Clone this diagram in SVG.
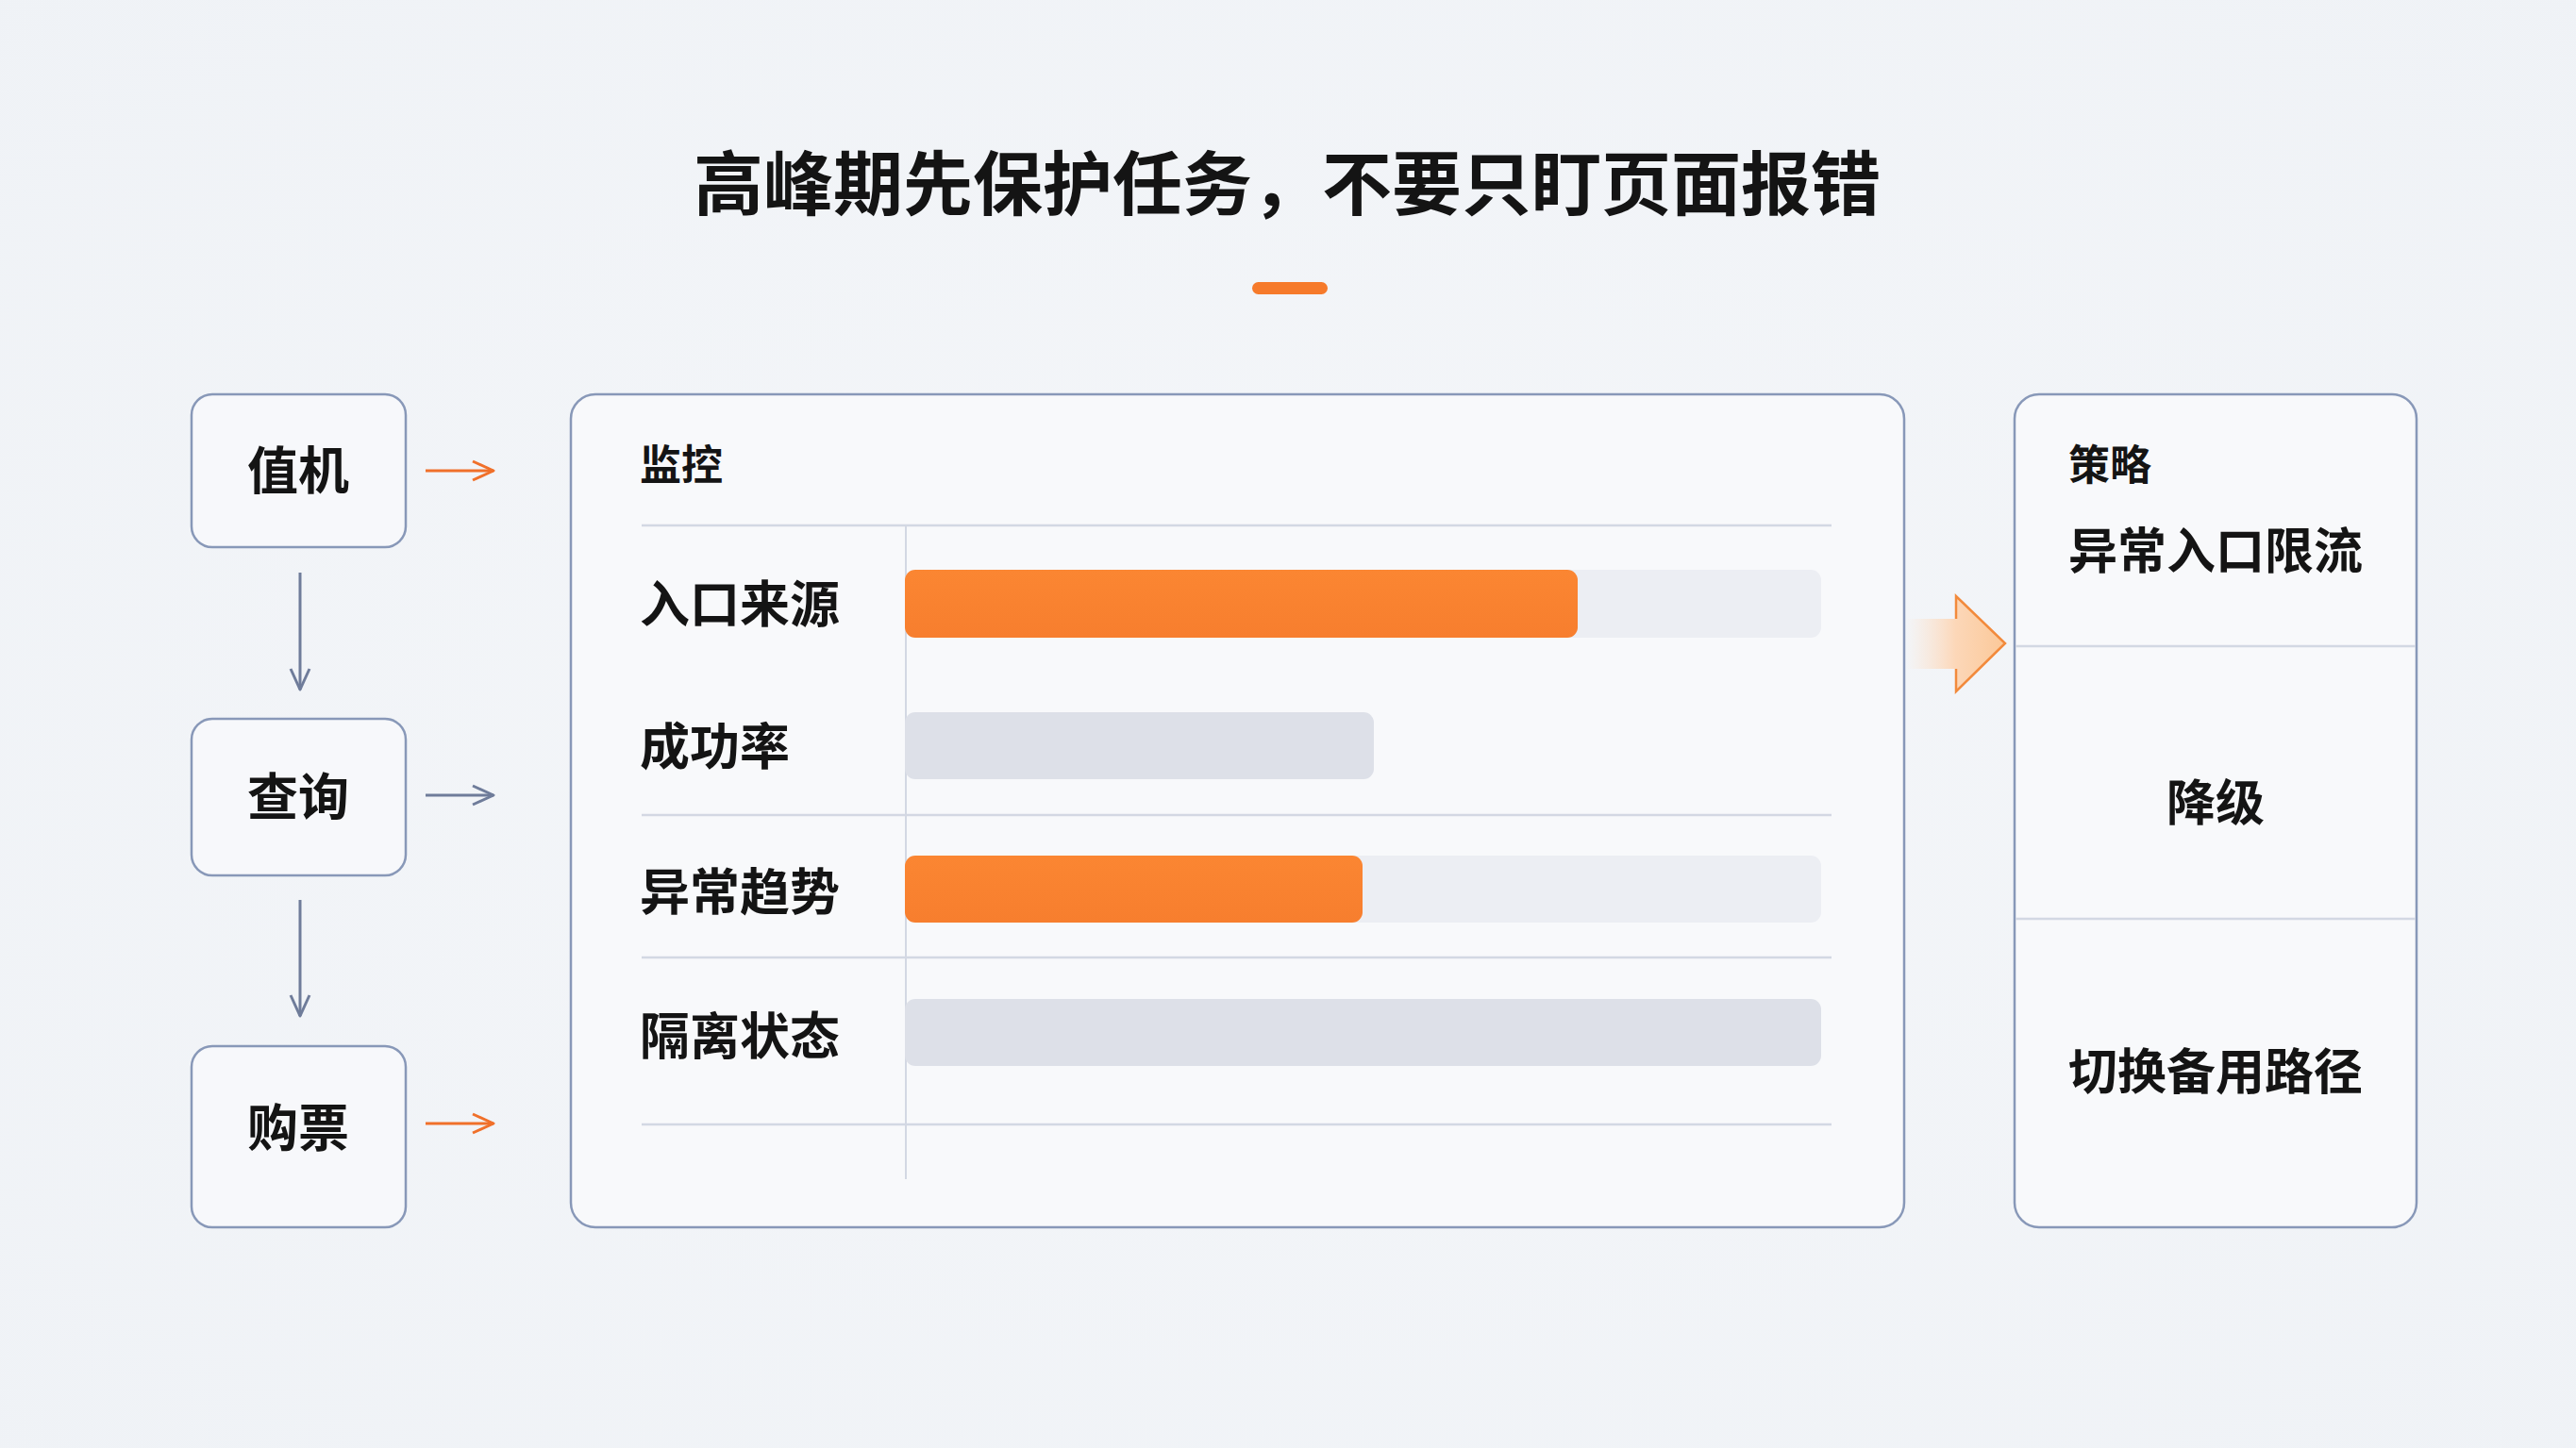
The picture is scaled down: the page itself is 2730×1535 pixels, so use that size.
<svg xmlns="http://www.w3.org/2000/svg" width="2730" height="1535" viewBox="0 0 2730 1535">
<defs>
<radialGradient id="bg" cx="50%" cy="50%" r="75%">
<stop offset="0" stop-color="#f4f6f9"/>
<stop offset="1" stop-color="#eff2f6"/>
</radialGradient>
<linearGradient id="orange" x1="0" y1="0" x2="0" y2="1">
<stop offset="0" stop-color="#fb8632"/>
<stop offset="1" stop-color="#f77e2e"/>
</linearGradient>
<linearGradient id="bigArrow" x1="0" y1="0" x2="1" y2="0">
<stop offset="0" stop-color="#fde2cc" stop-opacity="0"/>
<stop offset="0.5" stop-color="#fcd7b8"/>
<stop offset="1" stop-color="#fbc898"/>
</linearGradient>
<marker id="arrOrange" markerWidth="30" markerHeight="30" refX="26" refY="12" orient="auto" markerUnits="userSpaceOnUse">
<path d="M4 2 L26 12 L4 22" fill="none" stroke="#f0702a" stroke-width="3" stroke-linejoin="round"/>
</marker>
<marker id="arrGray" markerWidth="30" markerHeight="30" refX="26" refY="12" orient="auto" markerUnits="userSpaceOnUse">
<path d="M4 2 L26 12 L4 22" fill="none" stroke="#6f7c9a" stroke-width="3" stroke-linejoin="round"/>
</marker>
<style>
text{font-family:"Noto Sans CJK SC","Noto Sans",sans-serif;fill:#141414;dominant-baseline:central}
.title{font-size:74px;font-weight:700;text-anchor:middle}
.node{fill:#f7f8fb;stroke:#8898b8;stroke-width:2.5}
.nodeText{font-size:54px;font-weight:700;text-anchor:middle}
.head{font-size:44px;font-weight:700}
.label{font-size:53px;font-weight:700}
.strat{font-size:52px;font-weight:700;text-anchor:middle}
.sep{stroke:#d3d8e3;stroke-width:2.5}
.track{fill:#eceef3}
.gray{fill:#dde0e8}
.bar{fill:url(#orange)}
.conO{stroke:#f0702a;stroke-width:3;fill:none}
.conG{stroke:#6f7c9a;stroke-width:3;fill:none}
</style>
</defs>
<rect width="2730" height="1535" fill="url(#bg)"/>

<g id="title">
<text class="title" x="1364" y="189">高峰期先保护任务，不要只盯页面报错</text>
<rect x="1327" y="299" width="80" height="13" rx="6.5" fill="#f67a2b"/>
</g>

<g id="node-checkin">
<rect class="node" x="203" y="418" width="227" height="162" rx="22"/>
<text class="nodeText" x="316" y="495">值机</text>
</g>
<g id="node-query">
<rect class="node" x="203" y="762" width="227" height="166" rx="22"/>
<text class="nodeText" x="316" y="841">查询</text>
</g>
<g id="node-buy">
<rect class="node" x="203" y="1109" width="227" height="192" rx="22"/>
<text class="nodeText" x="316" y="1192">购票</text>
</g>

<g id="monitor">
<rect x="605" y="418" width="1413" height="883" rx="26" fill="#f8f9fb" stroke="#8898b8" stroke-width="2.5"/>
<text class="head" x="678" y="490">监控</text>
<line class="sep" x1="680" y1="557" x2="1941" y2="557"/>
<line class="sep" x1="680" y1="864" x2="1941" y2="864"/>
<line class="sep" x1="680" y1="1015" x2="1941" y2="1015"/>
<line class="sep" x1="680" y1="1192" x2="1941" y2="1192"/>
<line x1="960" y1="557" x2="960" y2="1250" stroke="#d3d8e3" stroke-width="2"/>
<g id="row-entry">
<text class="label" x="678" y="637">入口来源</text>
<rect class="track" x="959" y="604" width="971" height="72" rx="11"/>
<rect class="bar" x="959" y="604" width="713" height="72" rx="11"/>
</g>
<g id="row-success">
<text class="label" x="678" y="788">成功率</text>
<rect class="gray" x="959" y="755" width="497" height="71" rx="11"/>
</g>
<g id="row-trend">
<text class="label" x="678" y="942">异常趋势</text>
<rect class="track" x="959" y="907" width="971" height="71" rx="11"/>
<rect class="bar" x="959" y="907" width="485" height="71" rx="11"/>
</g>
<g id="row-isolation">
<text class="label" x="678" y="1095">隔离状态</text>
<rect class="gray" x="959" y="1059" width="971" height="71" rx="11"/>
</g>
</g>

<g id="strategy">
<rect x="2135" y="418" width="426" height="883" rx="26" fill="#f8f9fb" stroke="#8898b8" stroke-width="2.5"/>
<line class="sep" x1="2136" y1="685" x2="2560" y2="685"/>
<line class="sep" x1="2136" y1="974" x2="2560" y2="974"/>
<text class="head" x="2192" y="490">策略</text>
<text class="strat" x="2348" y="580">异常入口限流</text>
<text class="strat" x="2348" y="847">降级</text>
<text class="strat" x="2348" y="1132">切换备用路径</text>
</g>

<g id="connectors">
<line class="conG" x1="318" y1="607" x2="318" y2="731" marker-end="url(#arrGray)"/>
<line class="conG" x1="318" y1="954" x2="318" y2="1077" marker-end="url(#arrGray)"/>
<line class="conO" x1="451" y1="499" x2="523" y2="499" marker-end="url(#arrOrange)"/>
<line class="conG" x1="451" y1="843" x2="523" y2="843" marker-end="url(#arrGray)"/>
<line class="conO" x1="451" y1="1191" x2="523" y2="1191" marker-end="url(#arrOrange)"/>
<path d="M2020 656 L2073 656 L2073 632 L2125 682 L2073 733 L2073 709 L2020 709 Z" fill="url(#bigArrow)"/>
<path d="M2073 656 L2073 632 L2125 682 L2073 733 L2073 709" fill="none" stroke="#f28a3c" stroke-width="2.5" stroke-linejoin="miter"/>
</g>
</svg>
